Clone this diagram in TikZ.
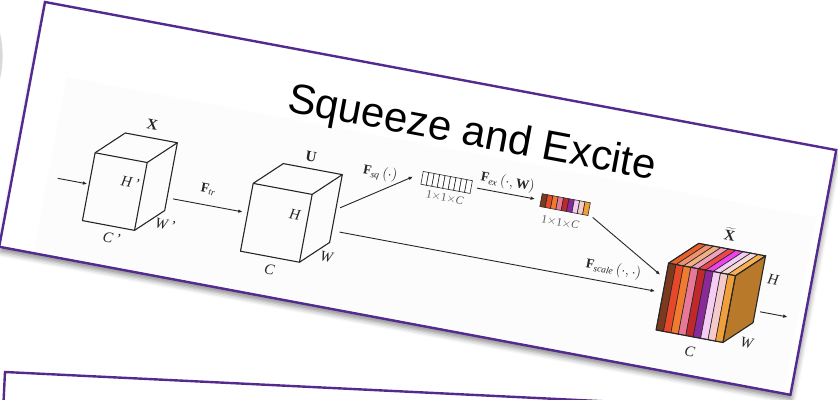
\documentclass[tikz,border=0pt]{standalone}
\usepackage{fontspec}
\setmainfont{Liberation Serif}
\newfontfamily\titlefont{Liberation Sans}
\usetikzlibrary{arrows.meta,shadows.blur}

\definecolor{cardline}{RGB}{84,42,142}
\definecolor{figbg}{RGB}{252,252,252}
\definecolor{sideface}{RGB}{184,122,42}
% front colours of the slices
\definecolor{sa}{RGB}{123,58,30}
\definecolor{sb}{RGB}{232,72,42}
\definecolor{sc}{RGB}{240,122,46}
\definecolor{sd}{RGB}{232,120,152}
\definecolor{se}{RGB}{192,40,42}
\definecolor{sf}{RGB}{138,42,154}
\definecolor{sg}{RGB}{244,204,244}
\definecolor{sh}{RGB}{244,202,202}
\definecolor{si}{RGB}{240,160,58}
% top colours of the slices
\definecolor{ta}{RGB}{232,96,42}
\definecolor{tb}{RGB}{240,144,112}
\definecolor{tc}{RGB}{240,176,128}
\definecolor{td}{RGB}{240,160,184}
\definecolor{te}{RGB}{232,72,72}
\definecolor{tf}{RGB}{240,64,240}
\definecolor{tg}{RGB}{240,208,240}
\definecolor{th}{RGB}{248,216,216}
\definecolor{ti}{RGB}{248,176,80}

\begin{document}
\begin{tikzpicture}[x=1pt,y=-1pt,>={Latex[length=4.5pt,width=3.6pt]},
  card/.style={draw=cardline,line width=2.4pt,fill=white},
  edge/.style={black!85,line width=1.1pt,line join=round},
  arr/.style={->,black!85,line width=0.9pt},
  lab/.style={inner sep=0pt,text=black!85,font=\fontsize{15}{15}\selectfont},
  flab/.style={inner sep=0pt,text=black!85,font=\fontsize{13.5}{13.5}\selectfont},
  dimlab/.style={inner sep=0pt,text=black!65,font=\fontsize{11.5}{11.5}\selectfont},
  cell/.style={draw=black!85,line width=0.6pt}]

\useasboundingbox (0,0) rectangle (838,399);
\clip (0,0) rectangle (838,399);

% edge of a card further left
\fill[black!15] (0,33) .. controls (3.5,48) and (3.5,64) .. (0,79) -- cycle;

% card below
\begin{scope}[shift={(5,372)},rotate=-2.8]
  \draw[card] (0,0) rectangle (900,150);
\end{scope}

% main card
\begin{scope}[shift={(45,2)},rotate=-10.6,transform shape]
  \draw[card,blur shadow={shadow xshift=1pt,shadow yshift=-5pt,shadow blur radius=5pt,shadow opacity=45}] (0,0) rectangle (805,249);
  \fill[figbg] (35,70) rectangle (798,247);
  \node[font=\titlefont\fontsize{42}{42}\selectfont] (title) at (444,52) {Squeeze and Excite};

  % input X
  \draw[edge] (77,139) rectangle (130,208);
  \draw[edge] (77,139) -- ++(26,-25) -- ++(53,0) -- ++(0,69) -- (130,208);
  \draw[edge] (130,139) -- ++(26,-25);
  \node[lab] (xname) at (128,101) {$\mathbf{X}$};
  \node[lab] (xh) at (117,162) {\textit{H\,'}};
  \node[lab] (xw) at (159,197) {\textit{W\,'}};
  \node[lab] (xc) at (109,220) {\textit{C\,'}};

  % U
  \draw[edge] (238,140) rectangle (298,209);
  \draw[edge] (238,140) -- ++(26,-25) -- ++(60,0) -- ++(0,69) -- (298,209);
  \draw[edge] (298,140) -- ++(26,-25);
  \node[lab] (uname) at (290,103) {$\mathbf{U}$};
  \node[lab] (uh) at (285,163) {\textit{H}};
  \node[lab] (uw) at (324,199) {\textit{W}};
  \node[lab] (uc) at (270,222) {\textit{C}};

  % squeezed vector
  \foreach \i in {0,...,8}
    \draw[cell,fill=white] (403+\i*5.556,97) rectangle ++(5.556,13);
  \node[dimlab] (sqdim) at (429,119) {1$\times$1$\times$\textit{C}};

  % excited vector
  \foreach \c [count=\i from 0] in {sa,sb,sc,sd,se,sf,sg,sh,si}
    \draw[cell,fill=\c] (524+\i*5.444,97) rectangle ++(5.444,13);
  \node[dimlab] (exdim) at (547,122) {1$\times$1$\times$\textit{C}};

  % rescaled output
  \draw[edge,fill=sideface] (729,142) -- ++(26,-25) -- ++(0,68) -- (729,210) -- cycle;
  \foreach \c/\t [count=\i from 0] in {sa/ta,sb/tb,sc/tc,sd/td,se/te,sf/tf,sg/tg,sh/th,si/ti}{
    \draw[cell,fill=\t] (661+\i*7.556,142) -- ++(7.556,0) -- ++(26,-25) -- ++(-7.556,0) -- cycle;
    \draw[cell,fill=\c] (661+\i*7.556,142) rectangle ++(7.556,68);
  }
  \draw[edge] (661,142) rectangle (729,210);
  \draw[edge] (661,142) -- ++(26,-25) -- ++(68,0) -- (729,142);
  \node[lab] (xtname) at (716,102) {$\widetilde{\mathbf{X}}$};
  \node[lab] (xth) at (767,139) {\textit{H}};
  \node[lab] (xtw) at (753,206) {\textit{W}};
  \node[lab] (xtc) at (698,225) {\textit{C}};

  % arrows
  \coordinate (in) at (45,171);
  \coordinate (xin) at (75,171);
  \coordinate (xout) at (162,170);
  \coordinate (uin) at (233,170);
  \coordinate (usq) at (328,148);
  \coordinate (sqin) at (394,104);
  \coordinate (sqout) at (459,103.5);
  \coordinate (exin) at (518,103.5);
  \coordinate (exout) at (578,111);
  \coordinate (xtex) at (655,155);
  \coordinate (usc) at (332,172);
  \coordinate (xtsc) at (653,172);
  \coordinate (xtout) at (760,173);
  \coordinate (out) at (788,173);
  \draw[arr] (in) -- (xin);
  \draw[arr] (xout) -- (uin);
  \draw[arr] (usq) -- (sqin);
  \draw[arr] (sqout) -- (exin);
  \draw[arr] (exout) -- (xtex);
  \draw[arr] (usc) -- (xtsc);
  \draw[arr] (xtout) -- (out);
  \node[flab] (ftr) at (195,154) {$\mathbf{F}_{\mathit{tr}}$};
  \node[flab] (fsq) at (361,107) {$\mathbf{F}_{\mathit{sq}}\,(\cdot)$};
  \node[flab] (fex) at (488,92) {$\mathbf{F}_{\mathit{ex}}\,(\cdot,\mathbf{W})$};
  \node[flab] (fscale) at (608,158) {$\mathbf{F}_{\mathit{scale}}\,(\cdot,\cdot)$};
\end{scope}
\end{tikzpicture}
\end{document}
